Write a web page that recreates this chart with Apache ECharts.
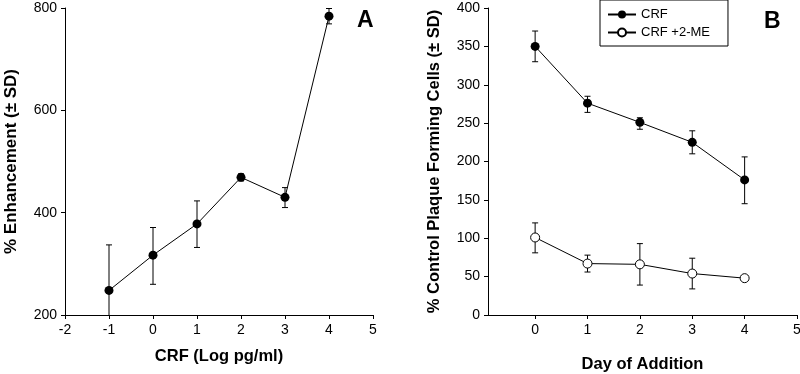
<!DOCTYPE html>
<html><head><meta charset="utf-8">
<script src="https://cdn.jsdelivr.net/npm/echarts@6/dist/echarts.min.js"></script>
<style>html,body{margin:0;padding:0;background:#fff}#c{width:800px;height:374px}</style>
</head><body><div id="c"></div>
<script>
// Panel A
const aX = [-1, 0, 1, 2, 3, 4];
const aY = [248, 317, 378, 469, 430, 784];
const aLow = [158, 260, 332, 462, 410, 769];
const aHigh = [337, 371, 423, 476, 449, 799];
// Panel B
const bX = [0, 1, 2, 3, 4];
const crfY = [350, 276, 251, 225, 176];
const crfLow = [330, 264, 242, 210, 145];
const crfHigh = [370, 285, 257, 240, 206];
const meY = [101, 67, 66, 54, 48];
const meLow = [81, 56, 39, 34, 46];
const meHigh = [120, 78, 93, 74, 50];
const bTicks = [0, 1, 2, 3, 4, 5];

const FONT = 'Liberation Sans';

function errSeries(xs, lo, hi, xi, yi) {
  return {
    type: 'custom', xAxisIndex: xi, yAxisIndex: yi, clip: true, z: 1, silent: true,
    data: xs.map((x, i) => [x, lo[i], hi[i]]),
    renderItem: function (params, api) {
      const p1 = api.coord([api.value(0), api.value(1)]);
      const p2 = api.coord([api.value(0), api.value(2)]);
      const w = 3;
      const st = { stroke: '#000', lineWidth: 1 };
      return { type: 'group', children: [
        { type: 'line', shape: { x1: p1[0], y1: p1[1], x2: p2[0], y2: p2[1] }, style: st },
        { type: 'line', shape: { x1: p1[0] - w, y1: p1[1], x2: p1[0] + w, y2: p1[1] }, style: st },
        { type: 'line', shape: { x1: p2[0] - w, y1: p2[1], x2: p2[0] + w, y2: p2[1] }, style: st }
      ]};
    }
  };
}

function axisBase(extra) {
  return Object.assign({
    axisLine: { onZero: false, lineStyle: { color: '#000', width: 1 } },
    axisTick: { show: true, length: 4, lineStyle: { color: '#000' } },
    axisLabel: { color: '#000', fontSize: 14, fontFamily: FONT },
    splitLine: { show: false },
    nameTextStyle: { color: '#000', fontSize: 16.5, fontWeight: 'bold', fontFamily: FONT }
  }, extra);
}

const chart = echarts.init(document.getElementById('c'));
chart.setOption({
  animation: false,
  textStyle: { fontFamily: FONT },
  title: [
    { text: 'A', left: 352, top: 4, textStyle: { fontSize: 23, fontWeight: 'bold', color: '#000', fontFamily: FONT } },
    { text: 'B', left: 759, top: 5, textStyle: { fontSize: 23, fontWeight: 'bold', color: '#000', fontFamily: FONT } }
  ],
  legend: {
    left: 600, top: 0, orient: 'vertical',
    borderColor: '#000', borderWidth: 1, borderRadius: 0,
    padding: [8, 18, 7, 7], itemGap: 5, itemWidth: 28, itemHeight: 10,
    textStyle: { color: '#000', fontSize: 13, fontFamily: FONT },
    data: ['CRF', 'CRF +2-ME']
  },
  grid: [
    { left: 65, right: 427, top: 8, bottom: 59, outerBoundsMode: 'none', containLabel: false },
    { left: 488, right: 3, top: 8, bottom: 59, outerBoundsMode: 'none', containLabel: false }
  ],
  xAxis: [
    axisBase({ gridIndex: 0, type: 'value', min: -2, max: 5, interval: 1,
      name: 'CRF (Log pg/ml)', nameLocation: 'middle', nameGap: 33 }),
    axisBase({ gridIndex: 1, type: 'value', min: -0.9, max: 5,
      axisTick: { show: true, length: 4, lineStyle: { color: '#000' }, customValues: bTicks },
      axisLabel: { color: '#000', fontSize: 14, fontFamily: FONT, customValues: bTicks },
      name: 'Day of Addition', nameLocation: 'middle', nameGap: 41 })
  ],
  yAxis: [
    axisBase({ gridIndex: 0, type: 'value', min: 200, max: 800, interval: 200,
      name: '% Enhancement (± SD)', nameLocation: 'middle', nameGap: 45,
      nameTextStyle: { color: '#000', fontSize: 17, fontWeight: 'bold', fontFamily: FONT } }),
    axisBase({ gridIndex: 1, type: 'value', min: 0, max: 400, interval: 50,
      name: '% Control Plaque Forming Cells (± SD)', nameLocation: 'middle', nameGap: 45,
      nameTextStyle: { color: '#000', fontSize: 16.5, fontWeight: 'bold', fontFamily: FONT } })
  ],
  series: [
    errSeries(aX, aLow, aHigh, 0, 0),
    { type: 'line', name: 'A', xAxisIndex: 0, yAxisIndex: 0, z: 3,
      data: aX.map((x, i) => [x, aY[i]]), symbol: 'circle', symbolSize: 9,
      lineStyle: { color: '#000', width: 1 }, itemStyle: { color: '#000' } },
    errSeries(bX, crfLow, crfHigh, 1, 1),
    errSeries(bX, meLow, meHigh, 1, 1),
    { type: 'line', name: 'CRF', xAxisIndex: 1, yAxisIndex: 1, z: 3,
      data: bX.map((x, i) => [x, crfY[i]]), symbol: 'circle', symbolSize: 9,
      lineStyle: { color: '#000', width: 1 }, itemStyle: { color: '#000' } },
    { type: 'line', name: 'CRF +2-ME', xAxisIndex: 1, yAxisIndex: 1, z: 3,
      data: bX.map((x, i) => [x, meY[i]]), symbol: 'circle', symbolSize: 9,
      lineStyle: { color: '#000', width: 1 }, itemStyle: { color: '#fff', borderColor: '#000', borderWidth: 1 } }
  ]
});
</script></body></html>
